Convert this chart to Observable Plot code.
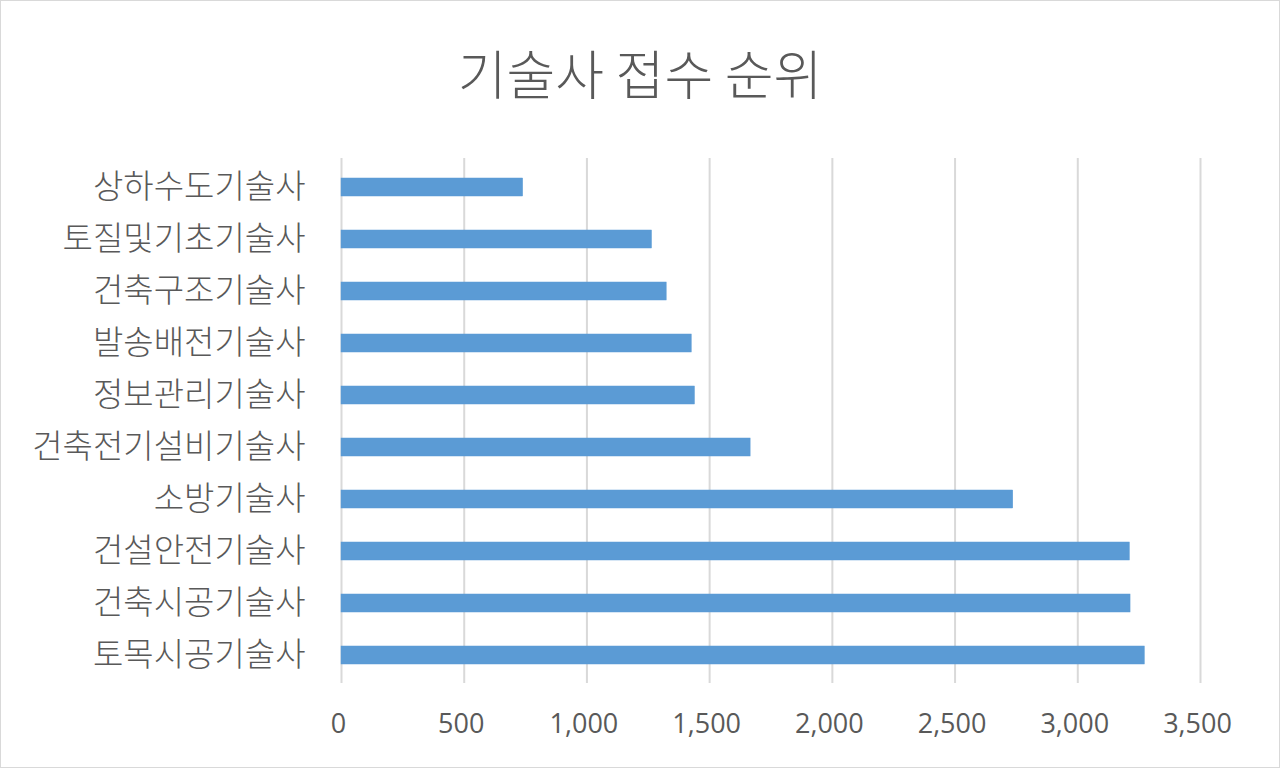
<!DOCTYPE html>
<html>
<head>
<meta charset="utf-8">
<script src="https://cdn.jsdelivr.net/npm/d3@7"></script>
<script src="https://cdn.jsdelivr.net/npm/@observablehq/plot@0.6"></script>
<style>
  html, body { margin: 0; padding: 0; background: #fff; }
  #wrap { position: relative; width: 1280px; height: 768px; overflow: hidden; background: #fff; }
  #title { position: absolute; left: 0; width: 1280px; top: 42px; height: 60px; line-height: 60px;
           text-align: center; font-family: "Noto Sans CJK KR", sans-serif; font-size: 53px; font-weight: 300; color: #595959; }
  #chart { position: absolute; left: 0; top: 130px; }
  #frame { position: absolute; left: 0; top: 0; width: 1278px; height: 766px; border: 1px solid #d9d9d9; pointer-events: none; }
</style>
</head>
<body>
<div id="wrap">
  <div id="title">기술사 접수 순위</div>
  <div id="chart"></div>
  <div id="frame"></div>
</div>
<script>
const categories = ["상하수도기술사", "토질및기초기술사", "건축구조기술사", "발송배전기술사", "정보관리기술사",
                    "건축전기설비기술사", "소방기술사", "건설안전기술사", "건축시공기술사", "토목시공기술사"];
const values = [740, 1265, 1325, 1427, 1440, 1667, 2737, 3212, 3215, 3273];
const xTicks = [0, 500, 1000, 1500, 2000, 2500, 3000, 3500];

const data = categories.map((c, i) => ({category: c, value: values[i]}));

const chart = Plot.plot({
  width: 1280,
  height: 638,
  marginLeft: 341,
  marginRight: 80,
  marginTop: 28,
  marginBottom: 85,
  style: {background: "transparent", color: "#595959"},
  x: {domain: [0, 3500], ticks: xTicks},
  y: {domain: categories, paddingInner: 0.66, paddingOuter: 0.33},
  marks: [
    Plot.gridX(xTicks, {stroke: "#d9d9d9", strokeOpacity: 1, strokeWidth: 2}),
    Plot.barX(data, {x: "value", y: "category", fill: "#5b9bd5", stroke: "#5b9bd5", strokeWidth: 0.5}),
    Plot.axisX(xTicks, {tickSize: 0, tickPadding: 30, fontSize: 27, fill: "#595959",
      fontFamily: "'Open Sans', sans-serif", tickFormat: d3.format(","), label: null, dx: -3}),
    Plot.axisY({tickSize: 0, tickPadding: 36, fontSize: 33, fill: "#595959", fontWeight: 300,
      fontFamily: "'Noto Sans CJK KR', sans-serif", label: null})
  ]
});
document.getElementById("chart").appendChild(chart);
</script>
</body>
</html>
